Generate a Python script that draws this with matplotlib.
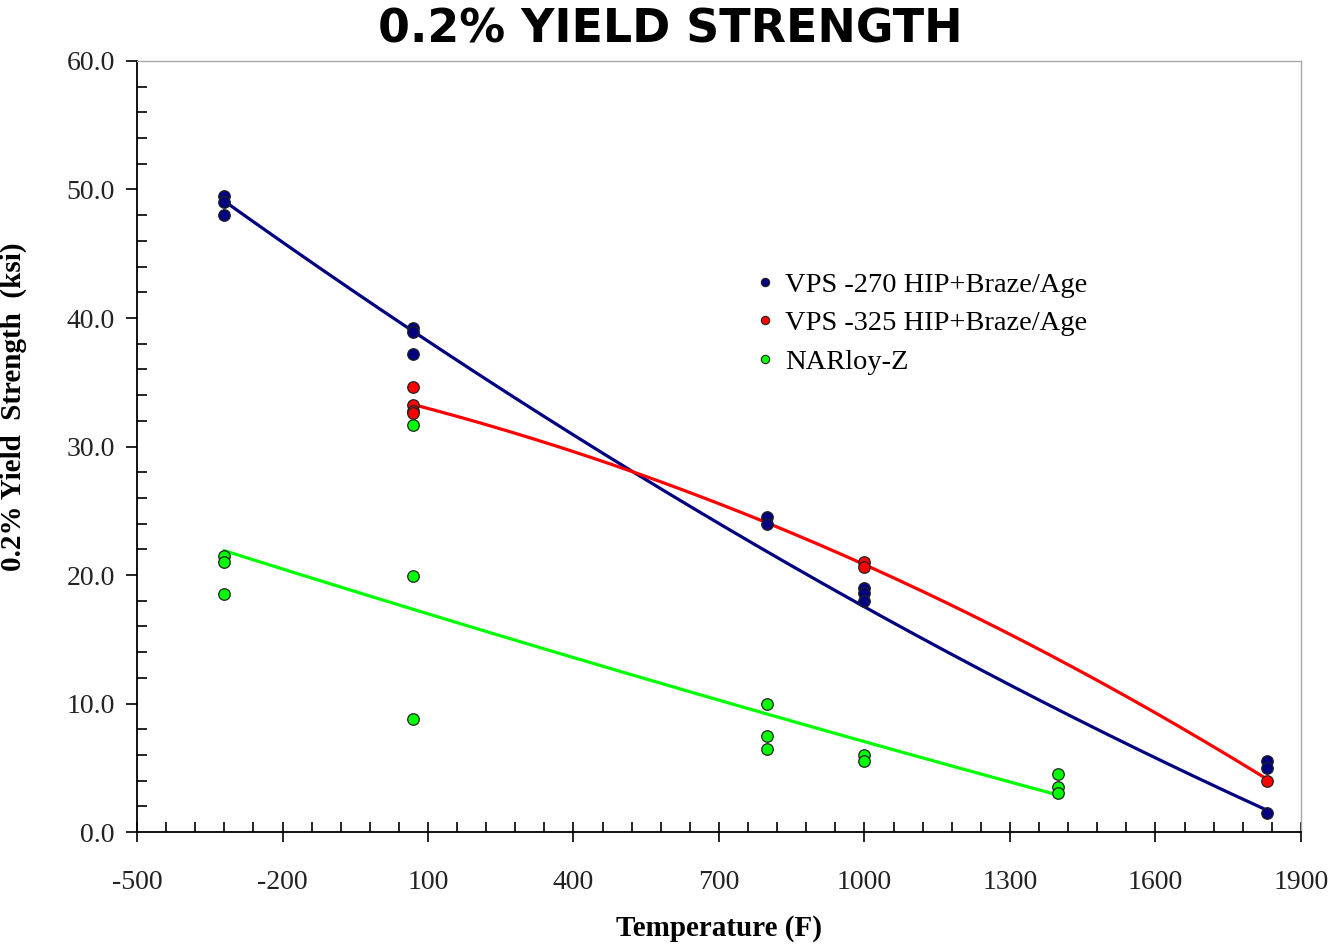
import numpy as np
import matplotlib
matplotlib.use("Agg")
import matplotlib.pyplot as plt
from matplotlib.lines import Line2D
from matplotlib.ticker import FixedLocator, MultipleLocator, FormatStrFormatter

# measured data points (temperature F, 0.2% yield strength ksi)
vps270_T = [-320, -320, -320, 70, 70, 70, 800, 800, 1000, 1000, 1000, 1830, 1830, 1830]
vps270_Y = [49.5, 49.0, 48.0, 39.2, 38.9, 37.2, 24.5, 24.0, 19.0, 18.6, 18.0, 5.5, 5.0, 1.5]

vps325_T = [70, 70, 70, 70, 1000, 1000, 1830]
vps325_Y = [34.6, 33.2, 32.8, 32.6, 21.0, 20.6, 4.0]

narloy_T = [-320, -320, -320, 70, 70, 70, 800, 800, 800, 1000, 1000, 1400, 1400, 1400]
narloy_Y = [21.5, 21.0, 18.5, 31.7, 19.9, 8.8, 10.0, 7.5, 6.5, 6.0, 5.5, 4.5, 3.5, 3.0]

# trend lines
fit270_T = [-320, 70, 300, 516, 800, 1000, 1279, 1554, 1830]
fit270_Y = [49.2, 38.9, 33.2, 28.0, 21.8, 17.7, 12.0, 6.6, 1.6]
fit325_T = [70, 300, 516, 800, 1000, 1279, 1554, 1830]
fit325_Y = [33.3, 30.8, 28.0, 24.2, 20.7, 15.7, 10.5, 4.0]
fitnar_T = [-320, 70, 800, 1000, 1400]
fitnar_Y = [21.9, 17.3, 9.3, 6.9, 2.9]

labels = ["VPS -270 HIP+Braze/Age", "VPS -325 HIP+Braze/Age", "NARloy-Z"]
colors = ["#000080", "#ff0000", "#00ff00"]

fig = plt.figure(figsize=(13.37, 9.44), dpi=100)
ax = fig.add_axes([0.1025, 0.1186, 0.8705, 0.8168])

# smooth the trend lines with a 2nd order fit of the read samples (like the original trendlines)
for T, Y, c in [(fit270_T, fit270_Y, colors[0]), (fit325_T, fit325_Y, colors[1]),
                (fitnar_T, fitnar_Y, colors[2])]:
    p = np.polyfit(T, Y, 2)
    xs = np.linspace(T[0], T[-1], 200)
    ax.plot(xs, np.polyval(p, xs), color=c, lw=2.3, zorder=2)

for T, Y, c in [(vps270_T, vps270_Y, colors[0]), (vps325_T, vps325_Y, colors[1]),
                (narloy_T, narloy_Y, colors[2])]:
    ax.plot(T, Y, 'o', ms=8.3, mfc=c, mec='#222222', mew=0.9, ls='none', zorder=3)

ax.set_xlim(-500, 1900)
ax.set_ylim(0, 60)
ax.xaxis.set_major_locator(FixedLocator(np.arange(-500, 1901, 300)))
ax.xaxis.set_minor_locator(FixedLocator(np.arange(-500, 1901, 60)))
ax.yaxis.set_major_locator(MultipleLocator(10))
ax.yaxis.set_minor_locator(MultipleLocator(2))
ax.yaxis.set_major_formatter(FormatStrFormatter('%.1f'))
ax.xaxis.set_major_formatter(FormatStrFormatter('%d'))

serif = ['Liberation Serif', 'DejaVu Serif']
ax.tick_params(axis='x', which='major', direction='inout', length=14, width=1.2, pad=20)
ax.tick_params(axis='x', which='minor', direction='in', length=7, width=1.2)
ax.tick_params(axis='y', which='major', direction='out', length=8, width=1.2, pad=8)
ax.tick_params(axis='y', which='minor', direction='in', length=7, width=1.2)
for lab in ax.get_xticklabels() + ax.get_yticklabels():
    lab.set_family(serif)
    lab.set_fontsize(20)
    lab.set_color('#222222')

for s in ['left', 'bottom']:
    ax.spines[s].set_linewidth(1.3)
    ax.spines[s].set_color('black')
for s in ['top', 'right']:
    ax.spines[s].set_linewidth(1.0)
    ax.spines[s].set_color('#aaaaaa')

ax.set_xlabel("Temperature (F)", family=serif, fontsize=21, fontweight='bold', labelpad=15)
ax.set_ylabel("0.2% Yield  Strength  (ksi)", family=serif, fontsize=21, fontweight='bold')
ax.yaxis.set_label_coords(-0.0945, 0.551)

fig.suptitle("0.2% YIELD STRENGTH", x=0.501, y=0.992, va='top',
             family=['Liberation Sans Narrow', 'DejaVu Sans'], fontweight='bold', fontsize=33)

handles = [Line2D([], [], marker='o', ls='none', ms=6, mfc=c, mec='#222222', mew=0.8) for c in colors]
leg = ax.legend(handles, labels, loc='upper left', bbox_to_anchor=(0.51, 0.76), frameon=False,
                prop={'family': serif, 'size': 20.5}, handlelength=0.6, handletextpad=0.4,
                labelspacing=0.45)

fig.savefig("out.png", dpi=100)
